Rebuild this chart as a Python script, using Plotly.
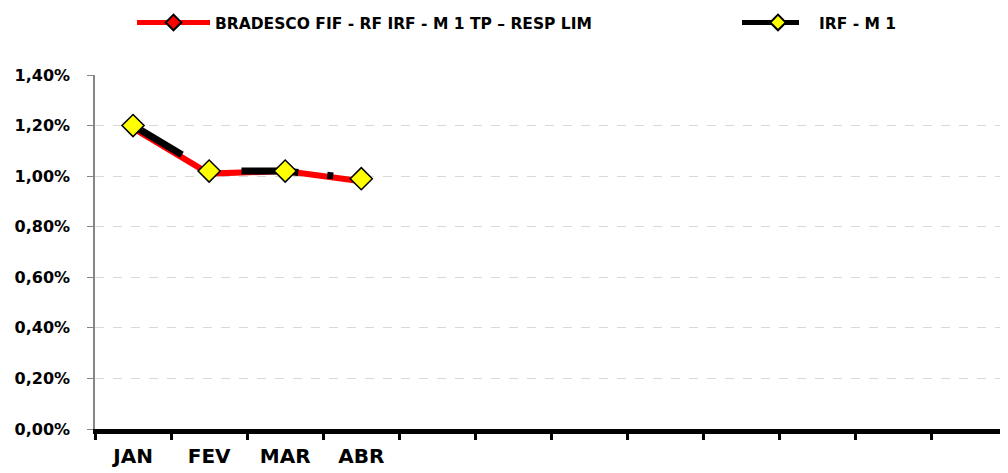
import plotly.graph_objects as go

# ---------------------------------------------------------------------------
# Data (monthly returns, %)
# ---------------------------------------------------------------------------
months = ["JAN", "FEV", "MAR", "ABR", "MAI", "JUN", "JUL", "AGO", "SET", "OUT", "NOV", "DEZ"]
month_labels = ["JAN", "FEV", "MAR", "ABR", "", "", "", "", "", "", "", ""]
fund_months = ["JAN", "FEV", "MAR", "ABR"]
fund_returns = [1.19, 1.01, 1.02, 0.98]
bench_returns = [1.20, 1.02, 1.02, 0.99]
y_ticks = [0.0, 0.2, 0.4, 0.6, 0.8, 1.0, 1.2, 1.4]
y_labels = [f"{v:.2f}%".replace(".", ",") for v in y_ticks]

FONT = "DejaVu Sans"

fig = go.Figure()

fig.add_trace(go.Scatter(
    x=fund_months, y=fund_returns,
    name="BRADESCO FIF - RF IRF - M 1 TP – RESP LIM",
    mode="lines+markers",
    line=dict(color="#ff0000", width=6),
    marker=dict(symbol="diamond", size=7, color="#ff0000",
                line=dict(color="black", width=1.5)),
    legend="legend",
))

fig.add_trace(go.Scatter(
    x=fund_months, y=bench_returns,
    name="IRF - M 1",
    mode="lines+markers",
    # long dash - dot pattern, like the Excel original
    line=dict(color="black", width=7, dash="57px,29px,6px,29px"),
    marker=dict(symbol="diamond", size=17, color="#ffff00",
                line=dict(color="black", width=1.5)),
    legend="legend2",
))

legend_font = dict(family=FONT, size=15.5, color="black", weight="bold")

# page has an 8px body margin, so the figure is 8px smaller than the window
fig.update_layout(
    width=1000,
    height=465,
    margin=dict(l=87, r=0, t=67, b=44, autoexpand=False),
    paper_bgcolor="white",
    plot_bgcolor="white",
    showlegend=True,
    legend=dict(
        x=0.124, y=0.968, xref="container", yref="container",
        xanchor="left", yanchor="middle",
        font=legend_font, itemwidth=73, itemsizing="constant",
        bgcolor="rgba(0,0,0,0)",
    ),
    legend2=dict(
        x=0.729, y=0.968, xref="container", yref="container",
        xanchor="left", yanchor="middle",
        font=legend_font, itemwidth=72, itemsizing="constant",
        bgcolor="rgba(0,0,0,0)",
    ),
    xaxis=dict(
        type="category",
        categoryorder="array",
        categoryarray=months,
        tickmode="array",
        tickvals=months,
        ticktext=month_labels,
        tickangle=0,
        range=[-0.5, 11.5],
        tickson="boundaries",
        ticks="outside",
        ticklen=6,
        tickwidth=3,
        tickcolor="black",
        showline=True,
        linecolor="black",
        linewidth=4.5,
        showgrid=False,
        ticklabelstandoff=5,
        tickfont=dict(family=FONT, size=20, color="black", weight="bold"),
    ),
    yaxis=dict(
        range=[0, 1.4],
        tickmode="array",
        tickvals=y_ticks,
        ticktext=y_labels,
        ticks="outside",
        ticklen=6,
        tickcolor="#868686",
        showline=True,
        linecolor="#868686",
        linewidth=1.5,
        showgrid=True,
        gridcolor="#d9d9d9",
        griddash="dash",
        zeroline=False,
        ticklabelstandoff=14,
        tickfont=dict(family=FONT, size=16, color="black", weight="bold"),
    ),
)

fig.write_html("out.html")
